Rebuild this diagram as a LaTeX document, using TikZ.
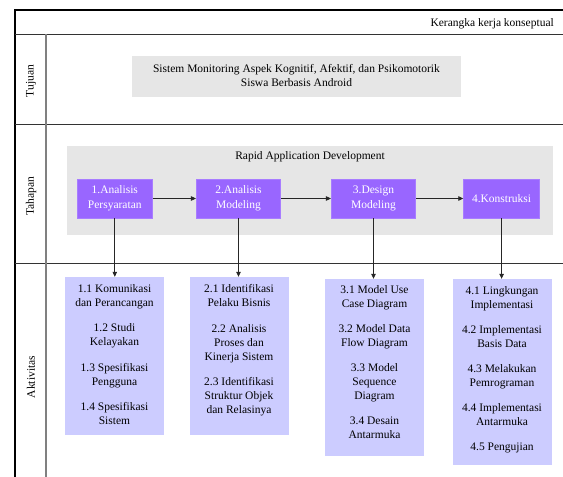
\documentclass[tikz,border=0pt]{standalone}
\usepackage{fontspec}
\setmainfont{Liberation Serif}
\usetikzlibrary{arrows.meta}
\definecolor{boxgray}{HTML}{E6E6E6}
\definecolor{purp}{HTML}{9966FF}
\definecolor{lav}{HTML}{CCCCFF}
\definecolor{divgray}{HTML}{808080}
\begin{document}
\begin{tikzpicture}[x=1pt,y=-1pt,
  txt/.style={font=\fontsize{11.5}{14}\selectfont, align=center, inner sep=0pt},
  graybox/.style={fill=boxgray, draw=none, inner sep=0pt},
  phasebox/.style={fill=purp, draw=purp!85!white, line width=0.6pt, inner sep=0pt,
    minimum height=39pt, text=white, font=\fontsize{11.5}{15}\selectfont, align=center},
  actbox/.style={fill=lav, draw=none, inner sep=0pt, minimum width=99pt},
  acttext/.style={txt, anchor=north},
  arr/.style={-{Triangle[length=5pt,width=4.5pt]}, black!85, line width=0.8pt},
  frameline/.style={black, line width=1.2pt},
  rowline/.style={black!80, line width=1pt},
  colline/.style={divgray, line width=1.6pt}]
\useasboundingbox (0,0) rectangle (563,477);
% frame
\draw[frameline] (15,477) -- (15,10) -- (563,10);
\draw[rowline] (15,34) -- (563,34);
\draw[rowline] (15,124) -- (563,124);
\draw[rowline] (15,263) -- (563,263);
\draw[colline] (46,34) -- (46,477);
\node[txt, anchor=base east] (hdr) at (554,26) {Kerangka kerja konseptual};
% row labels
\node[txt, rotate=90] (lt) at (31,81) {Tujuan};
\node[txt, rotate=90] (lh) at (31,196) {Tahapan};
\node[txt, rotate=90] (la) at (31,377) {Aktivitas};
% tujuan
\node[graybox, minimum width=329pt, minimum height=41pt] (goal) at (296.5,76.5) {};
\node[txt] (goaltxt) at (296.5,75.5) {Sistem Monitoring Aspek Kognitif, Afektif, dan Psikomotorik\\Siswa Berbasis Android};
% tahapan
\node[graybox, minimum width=486pt, minimum height=89pt] (rad) at (310,190.5) {};
\node[txt] (radtitle) at (310,157) {Rapid Application Development};
\node[phasebox, minimum width=75.5pt] (b1) at (114.8,198.5) {1.Analisis\\Persyaratan};
\node[phasebox, minimum width=84.5pt] (b2) at (238.5,198.5) {2.Analisis\\Modeling};
\node[phasebox, minimum width=84.5pt] (b3) at (373.5,198.5) {3.Design\\Modeling};
\node[phasebox, minimum width=76pt] (b4) at (501.6,198.5) {4.Konstruksi};
\draw[arr] (b1.east) -- (b2.west);
\draw[arr] (b2.east) -- (b3.west);
\draw[arr] (b3.east) -- (b4.west);
% aktivitas
\node[actbox, minimum height=158pt] (a1) at (114.5,356) {};
\node[actbox, minimum height=158pt] (a2) at (239,356) {};
\node[actbox, minimum height=177pt] (a3) at (374.5,367.5) {};
\node[actbox, minimum height=186pt] (a4) at (502,372) {};
\node[acttext] (t1) at ([yshift=-7.5pt]a1.north) {1.1 Komunikasi\\dan Perancangan\\[11.5pt]1.2 Studi\\Kelayakan\\[11.5pt]1.3 Spesifikasi\\Pengguna\\[11.5pt]1.4 Spesifikasi\\Sistem};
\node[acttext] (t2) at ([yshift=-7.5pt]a2.north) {2.1 Identifikasi\\Pelaku Bisnis\\[11.5pt]2.2 Analisis\\Proses dan\\Kinerja Sistem\\[11.5pt]2.3 Identifikasi\\Struktur Objek\\dan Relasinya};
\node[acttext] (t3) at ([yshift=-7pt]a3.north) {3.1 Model Use\\Case Diagram\\[11pt]3.2 Model Data\\Flow Diagram\\[11pt]3.3 Model\\Sequence\\Diagram\\[11pt]3.4 Desain\\Antarmuka};
\node[acttext] (t4) at ([yshift=-8pt]a4.north) {4.1 Lingkungan\\Implementasi\\[11pt]4.2 Implementasi\\Basis Data\\[11pt]4.3 Melakukan\\Pemrograman\\[11pt]4.4 Implementasi\\Antarmuka\\[11pt]4.5 Pengujian};
\draw[arr] (b1.south) -- (b1.south |- a1.north);
\draw[arr] (b2.south) -- (b2.south |- a2.north);
\draw[arr] (b3.south) -- (b3.south |- a3.north);
\draw[arr] (b4.south) -- (b4.south |- a4.north);
\end{tikzpicture}
\end{document}
